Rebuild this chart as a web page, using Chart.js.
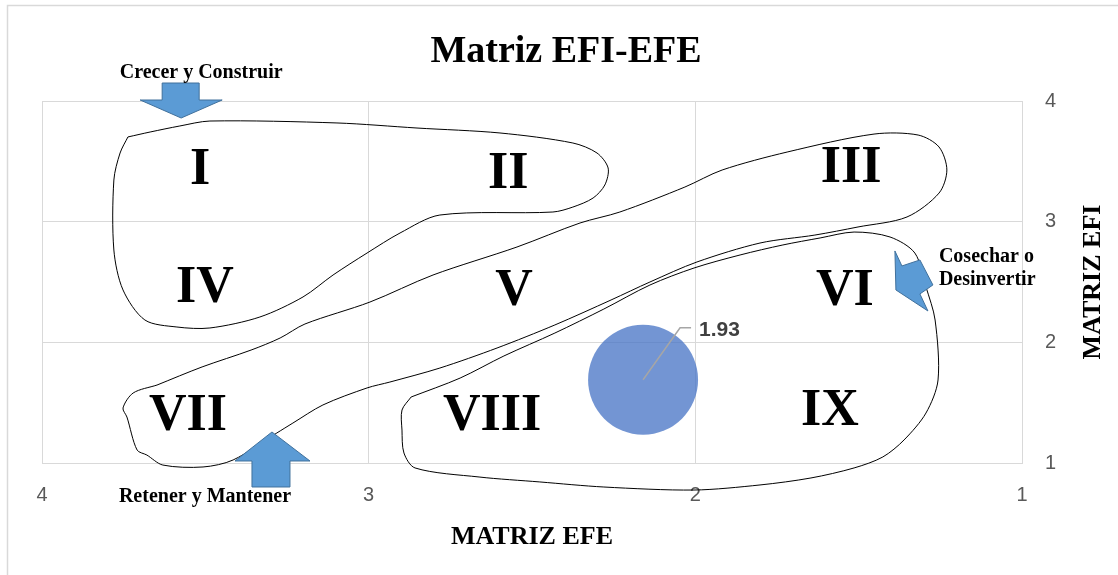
<!DOCTYPE html>
<html><head><meta charset="utf-8">
<script src="https://cdn.jsdelivr.net/npm/chart.js@4.4.1/dist/chart.umd.min.js"></script>
<style>html,body{margin:0;padding:0;background:#fff;}#wrap{width:1118px;height:575px;position:relative;}</style>
</head><body><div id="wrap"><canvas id="c"></canvas></div>
<script>
const chartTitle = 'Matriz EFI-EFE';
const xAxisTitle = 'MATRIZ EFE';
const yAxisTitle = 'MATRIZ EFI';
const axisMin = 1;
const axisMax = 4;

const quadrantLabels = ['I','II','III','IV','V','VI','VII','VIII','IX'];
const quadrantX = [3.516, 2.573, 1.523, 3.501, 2.555, 1.542, 3.553, 2.622, 1.588];
const quadrantY = [3.453, 3.420, 3.470, 2.475, 2.450, 2.450, 1.414, 1.414, 1.456];

const bubbleX = [2.16];
const bubbleY = [1.69];
const bubbleLabels = ['1.93'];

const loop1X = [3.737,3.669,3.578,3.486,3.097,2.852,2.598,2.375,2.301,2.267,2.277,2.313,2.375,2.436,2.782,2.904,3.005,3.109,3.201,3.333,3.486,3.587,3.685,3.752,3.780,3.780,3.761,3.737];
const loop1Y = [3.702,3.743,3.793,3.834,3.818,3.776,3.735,3.652,3.569,3.445,3.304,3.196,3.121,3.080,3.055,2.906,2.740,2.558,2.376,2.210,2.119,2.127,2.185,2.434,2.765,3.345,3.569,3.702];

const loop2X = [3.648,3.510,3.360,3.271,3.195,2.996,2.803,2.546,2.353,2.231,2.032,1.918,1.719,1.453,1.318,1.254,1.230,1.254,1.352,1.502,1.634,1.802,1.995,2.139,2.258,2.430,2.607,2.782,2.935,3.005,3.140,3.232,3.281,3.415,3.507,3.630,3.679,3.709,3.740,3.752,3.721,3.648];
const loop2Y = [1.646,1.796,1.936,2.036,2.152,2.334,2.558,2.790,2.989,3.080,3.287,3.428,3.577,3.726,3.718,3.619,3.428,3.237,3.039,2.956,2.889,2.823,2.666,2.500,2.351,2.144,1.953,1.787,1.671,1.622,1.481,1.331,1.249,1.025,0.967,0.983,1.066,1.108,1.381,1.456,1.580,1.646];

const loop3X = [2.870,2.720,2.586,2.430,2.280,2.139,2.004,1.863,1.732,1.618,1.514,1.404,1.328,1.294,1.266,1.257,1.294,1.361,1.426,1.514,1.646,1.802,2.004,2.280,2.476,2.662,2.858,2.892,2.898,2.898,2.870];
const loop3Y = [1.547,1.704,1.887,2.077,2.276,2.475,2.616,2.724,2.807,2.865,2.914,2.873,2.740,2.459,2.185,1.688,1.414,1.191,1.050,0.959,0.876,0.818,0.776,0.801,0.843,0.884,0.959,1.083,1.273,1.439,1.547];

const strategyLabels = [['Crecer y Construir'], ['Retener y Mantener'], ['Cosechar o', 'Desinvertir']];
const strategyX = [3.574, 3.296, 1.288];
const strategyY = [3.859, 1.257, 2.260];

// arrow shapes (pixel offsets from the tip) and text offsets
const arrowShapes = [
  [[0,0],[-41,-18],[-19,-18],[-19,-35],[18,-35],[18,-18],[41,-18]],
  [[0,0],[38,29],[18,29],[18,55],[-20,55],[-20,29],[-37,29]],
  [[0,0],[-32,-21],[-33,-60],[-26,-45],[-8,-51],[5,-26],[-8,-17]]
];
const labelOffsets = [
  {dx:20, dy:-45, align:'center'},
  {dx:-67, dy:65, align:'center'},
  {dx:11, dy:-54, align:'left'}
];

function pts(xs, ys){ return xs.map((x,i)=>({x:x, y:ys[i]})); }
function loopDataset(xs, ys){
  return {type:'line', data: pts(xs, ys), borderColor:'#000', borderWidth:1, pointRadius:0,
    tension:0.3, fill:false, clip:false, showLine:true};
}

const SERIF = '"Liberation Serif", "Times New Roman", serif';
const SANS = '"Liberation Sans", Arial, sans-serif';

const annotPlugin = {
  id: 'annot',
  beforeDraw(chart){
    const ctx = chart.ctx;
    ctx.save();
    ctx.fillStyle = '#fff';
    ctx.fillRect(0,0,chart.width,chart.height);
    ctx.strokeStyle = '#D9D9D9'; ctx.lineWidth = 1.5;
    ctx.beginPath(); ctx.moveTo(7.5, chart.height); ctx.lineTo(7.5, 5.5); ctx.lineTo(chart.width, 5.5); ctx.stroke();
    ctx.restore();
  },
  afterDatasetsDraw(chart){
    const ctx = chart.ctx;
    const xs = chart.scales.x, ys = chart.scales.y;
    ctx.save();
    ctx.fillStyle = '#000';
    ctx.font = 'bold 52px ' + SERIF;
    ctx.textAlign = 'center';
    ctx.textBaseline = 'alphabetic';
    quadrantLabels.forEach((t,i)=>{
      ctx.fillText(t, xs.getPixelForValue(quadrantX[i]), ys.getPixelForValue(quadrantY[i]) + 17);
    });
    const meta = chart.getDatasetMeta(0);
    meta.data.forEach((el,i)=>{
      const cx = el.x, cy = el.y;
      ctx.strokeStyle = '#A6A6A6'; ctx.lineWidth = 1.5;
      ctx.beginPath(); ctx.moveTo(cx, cy); ctx.lineTo(cx+37, cy-52); ctx.lineTo(cx+48, cy-52); ctx.stroke();
      ctx.fillStyle = '#404040';
      ctx.font = 'bold 21px ' + SANS;
      ctx.textAlign = 'left'; ctx.textBaseline = 'middle';
      ctx.fillText(bubbleLabels[i], cx+56, cy-50);
    });
    strategyLabels.forEach((lines,i)=>{
      const tx = xs.getPixelForValue(strategyX[i]);
      const ty = ys.getPixelForValue(strategyY[i]);
      const shape = arrowShapes[i];
      ctx.beginPath();
      shape.forEach((p,k)=>{ if(k===0) ctx.moveTo(tx+p[0], ty+p[1]); else ctx.lineTo(tx+p[0], ty+p[1]); });
      ctx.closePath();
      ctx.fillStyle = '#5B9BD5'; ctx.fill();
      ctx.strokeStyle = '#41719C'; ctx.lineWidth = 1; ctx.stroke();
      const o = labelOffsets[i];
      ctx.fillStyle = '#000';
      ctx.font = 'bold 20px ' + SERIF;
      ctx.textAlign = o.align; ctx.textBaseline = 'middle';
      lines.forEach((ln,k)=>{ ctx.fillText(ln, tx+o.dx, ty+o.dy+k*23); });
    });
    ctx.restore();
  },
  afterDraw(chart){
    const ctx = chart.ctx;
    const ca = chart.chartArea;
    ctx.save();
    ctx.fillStyle = '#000';
    ctx.textAlign = 'center'; ctx.textBaseline = 'alphabetic';
    ctx.font = 'bold 38px ' + SERIF;
    ctx.fillText(chartTitle, chart.width/2 + 7, 62);
    ctx.font = 'bold 26px ' + SERIF;
    ctx.fillText(xAxisTitle, (ca.left+ca.right)/2, 544);
    ctx.translate(1100, (ca.top+ca.bottom)/2);
    ctx.rotate(-Math.PI/2);
    ctx.fillText(yAxisTitle, 0, 0);
    ctx.restore();
  }
};

new Chart(document.getElementById('c'), {
  type: 'bubble',
  data: {
    datasets: [
      {type:'bubble', data: pts(bubbleX, bubbleY), radius:55, backgroundColor:'rgba(68,114,196,0.75)', borderWidth:0, hoverRadius:0},
      loopDataset(loop1X, loop1Y),
      loopDataset(loop2X, loop2Y),
      loopDataset(loop3X, loop3Y)
    ]
  },
  options: {
    responsive: true, maintainAspectRatio: false, animation: false,
    layout: {autoPadding: false, padding: {top:101, left:42, right:0, bottom:0}},
    plugins: {legend:{display:false}, tooltip:{enabled:false}, title:{display:false}},
    scales: {
      x: {type:'linear', position:'bottom', reverse:true, min:axisMin, max:axisMax,
          afterFit(s){ s.height = 112; },
          ticks:{stepSize:1, padding:20, color:'#595959', font:{family:SANS, size:20}},
          grid:{color:'#D9D9D9', lineWidth:1, drawTicks:false},
          border:{display:true, color:'#D9D9D9'}},
      y: {type:'linear', position:'right', min:axisMin, max:axisMax,
          afterFit(s){ s.width = 96; },
          ticks:{stepSize:1, padding:23, color:'#595959', font:{family:SANS, size:20}},
          grid:{color:'#D9D9D9', lineWidth:1, drawTicks:false},
          border:{display:true, color:'#D9D9D9'}}
    }
  },
  plugins: [annotPlugin]
});
</script></body></html>
